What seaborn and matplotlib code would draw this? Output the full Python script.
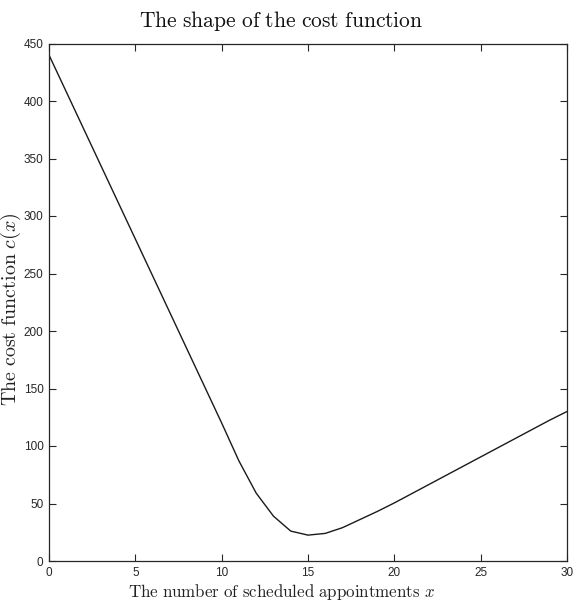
"""Cost function curve, MATLAB-like look with seaborn."""

import numpy as np
import pandas as pd
import seaborn as sns
import matplotlib

matplotlib.use("Agg")
import matplotlib.pyplot as plt

# scheduled appointments and the cost
appointments = [0, 1, 2, 3, 4, 5, 6, 7, 8, 9, 10, 11, 12, 13, 14, 15,
                16, 17, 18, 19, 20, 21, 22, 23, 24, 25, 26, 27, 28, 29, 30]
cost = [440, 408, 376, 344, 312, 280, 248, 216, 184, 152, 120, 87, 59, 39, 26, 22.5,
        24, 29, 36, 43, 50.5, 58.5, 66.5, 74.5, 82.5, 90.5, 98.5, 106.5, 114.5, 122.5, 130]

x_ticks = [0, 5, 10, 15, 20, 25, 30]
y_ticks = [0, 50, 100, 150, 200, 250, 300, 350, 400, 450]

sns.set_theme(style="ticks")
plt.rcParams["font.family"] = ["Liberation Sans", "DejaVu Sans"]
plt.rcParams["mathtext.fontset"] = "cm"

df = pd.DataFrame({"x": appointments, "c": cost})

W, H = 573, 604
fig = plt.figure(figsize=(W / 100, H / 100), dpi=100)
ax = fig.add_axes([49 / W, 1 - 561 / H, (567 - 49) / W, (561 - 43.5) / H])

sns.lineplot(data=df, x="x", y="c", ax=ax, color="#1a1a1a", linewidth=1.0)

ax.set_xlim(0, 30)
ax.set_ylim(0, 450)
ax.set_xticks(x_ticks)
ax.set_yticks(y_ticks)
ax.tick_params(direction="in", length=5, width=0.8, top=True, right=True,
               labelsize=8.5, colors="#262626", pad=4)
for s in ax.spines.values():
    s.set_visible(True)
    s.set_color("#262626")
    s.set_linewidth(0.9)

ax.set_title(r"$\mathrm{The\ shape\ of\ the\ cost\ function}$", fontsize=15.5,
             x=0.448, pad=12, color="#111111")
ax.set_xlabel(r"$\mathrm{The\ number\ of\ scheduled\ appointments}\ x$",
              fontsize=12.2, color="#222222")
ax.set_ylabel(r"$\mathrm{The\ cost\ function}\ c(x)$", fontsize=14.4, color="#222222")
ax.xaxis.set_label_coords(0.448, -0.04)
ax.yaxis.set_label_coords(-0.05, 0.486)

fig.savefig("out.png", dpi=100)
